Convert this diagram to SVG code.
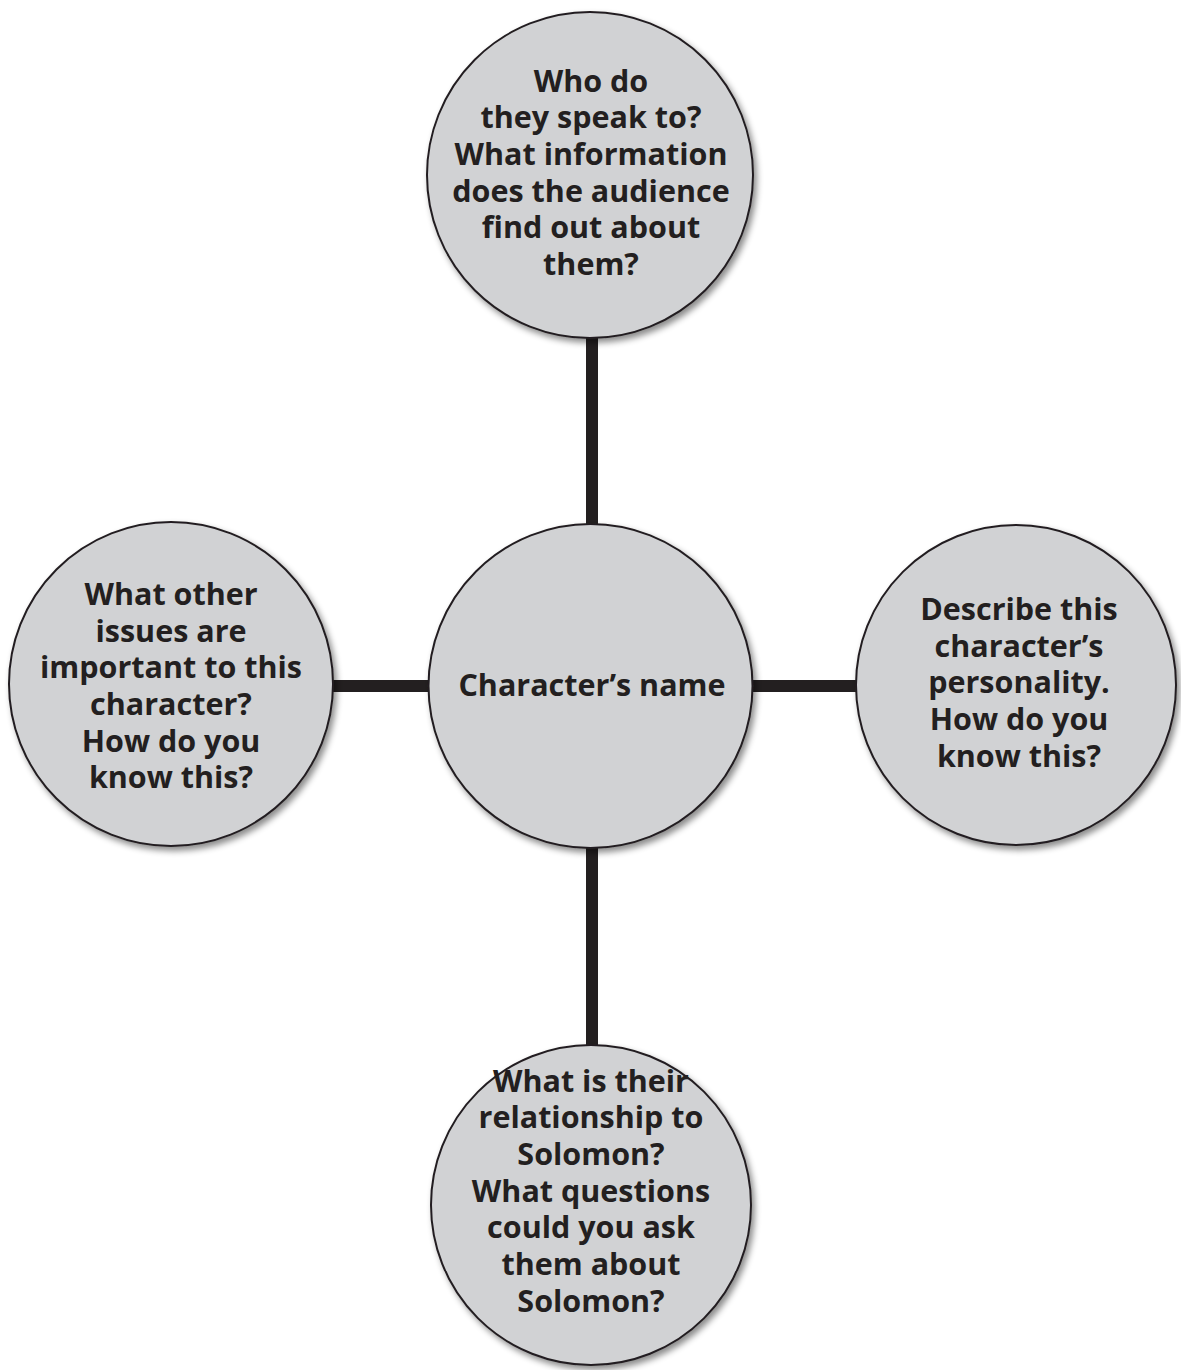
<svg xmlns="http://www.w3.org/2000/svg" width="1181" height="1370" viewBox="0 0 1181 1370">
  <defs>
    <filter id="sh" x="-20%" y="-20%" width="140%" height="140%">
      <feDropShadow dx="3" dy="4" stdDeviation="3" flood-color="#000" flood-opacity="0.45"/>
    </filter>
  </defs>
  <style>
    .node circle { fill: #d1d2d4; stroke: #231f20; stroke-width: 2; filter: url(#sh); }
    .node text { font-family: "Open Sans", "Noto Sans", "Liberation Sans", sans-serif; font-weight: bold; font-size: 30.5px; fill: #231f20; text-anchor: middle; }
    .conn line { stroke: #231f20; stroke-width: 12; }
  </style>
  <rect width="1181" height="1370" fill="#ffffff"/>
  <g id="connectors" class="conn">
    <line x1="592" y1="330" x2="592" y2="530"/>
    <line x1="592" y1="840" x2="592" y2="1052"/>
    <line x1="325" y1="686" x2="435" y2="686"/>
    <line x1="745" y1="686" x2="862" y2="686"/>
  </g>
  <g id="node-top" class="node">
    <circle cx="590" cy="175" r="163"/>
    <text x="591" y="92">Who do</text>
    <text x="591" y="128">they speak to?</text>
    <text x="591" y="165">What information</text>
    <text x="591" y="202">does the audience</text>
    <text x="591" y="238">find out about</text>
    <text x="591" y="275">them?</text>
  </g>
  <g id="node-left" class="node">
    <circle cx="171" cy="684" r="162"/>
    <text x="171" y="605">What other</text>
    <text x="171" y="642">issues are</text>
    <text x="171" y="678">important to this</text>
    <text x="171" y="715">character?</text>
    <text x="171" y="752">How do you</text>
    <text x="171" y="788">know this?</text>
  </g>
  <g id="node-center" class="node">
    <circle cx="590.5" cy="686" r="162"/>
    <text x="592" y="696">Character’s name</text>
  </g>
  <g id="node-right" class="node">
    <circle cx="1016" cy="685" r="160"/>
    <text x="1019" y="620">Describe this</text>
    <text x="1019" y="657">character’s</text>
    <text x="1019" y="693">personality.</text>
    <text x="1019" y="730">How do you</text>
    <text x="1019" y="767">know this?</text>
  </g>
  <g id="node-bottom" class="node">
    <circle cx="591" cy="1205" r="160"/>
    <text x="591" y="1092">What is their</text>
    <text x="591" y="1128">relationship to</text>
    <text x="591" y="1165">Solomon?</text>
    <text x="591" y="1202">What questions</text>
    <text x="591" y="1238">could you ask</text>
    <text x="591" y="1275">them about</text>
    <text x="591" y="1312">Solomon?</text>
  </g>
</svg>
